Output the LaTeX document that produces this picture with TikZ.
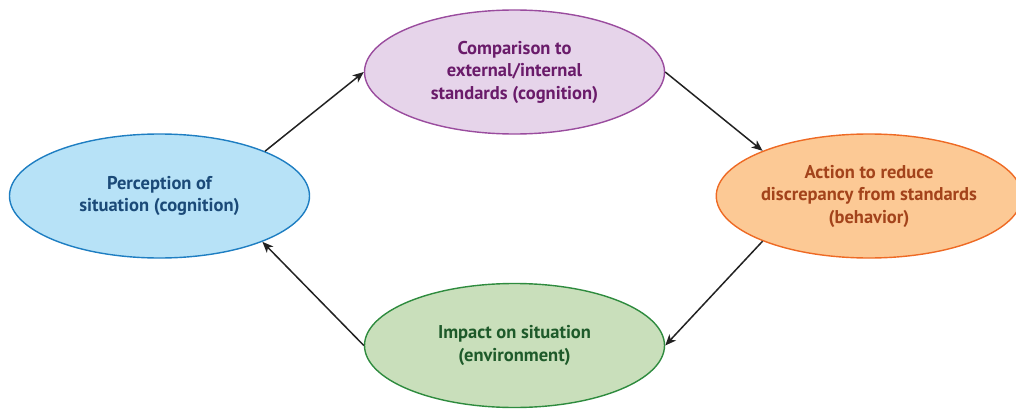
\documentclass[tikz,border=0pt]{standalone}
\usepackage{fontspec}
\setmainfont{PT Sans}
\usetikzlibrary{shapes.geometric,arrows.meta}

\definecolor{cmpfill}{HTML}{E6D4EA}
\definecolor{cmpline}{HTML}{9A4C9E}
\definecolor{cmptext}{HTML}{6A1B6A}
\definecolor{perfill}{HTML}{B7E2F7}
\definecolor{perline}{HTML}{1E7EC2}
\definecolor{pertext}{HTML}{1B4A78}
\definecolor{actfill}{HTML}{FCC995}
\definecolor{actline}{HTML}{EE6A24}
\definecolor{acttext}{HTML}{A3431B}
\definecolor{impfill}{HTML}{C9DFBB}
\definecolor{impline}{HTML}{2E8B3E}
\definecolor{imptext}{HTML}{1E5A2A}
\definecolor{arrowink}{HTML}{222222}

\tikzset{
  phase/.style={ellipse, draw, line width=1.4pt, inner sep=0pt,
    minimum width=300pt, minimum height=124pt, align=center,
    font=\bfseries\fontsize{18.5}{22.5}\selectfont},
  flow/.style={draw=arrowink, line width=1.5pt,
    -{Stealth[length=11pt, width=9pt, inset=3pt]}}
}

\begin{document}
\begin{tikzpicture}[x=1pt, y=-1pt]
  \useasboundingbox (0,0) rectangle (1016,409);
  \clip (0,0) rectangle (1016,409);

  \node[phase, fill=cmpfill, draw=cmpline, text=cmptext] (cmp) at (514.5,72)
    {Comparison to\\external/internal\\standards (cognition)};
  \node[phase, fill=perfill, draw=perline, text=pertext] (per) at (159.5,196)
    {Perception of\\situation (cognition)};
  \node[phase, fill=actfill, draw=actline, text=acttext] (act) at (869,196)
    {Action to reduce\\discrepancy from standards\\(behavior)};
  \node[phase, fill=impfill, draw=impline, text=imptext] (imp) at (514.5,345.5)
    {Impact on situation\\(environment)};

  \draw[flow] (per.23) -- (cmp.west);
  \draw[flow] (cmp.east) -- (act.157);
  \draw[flow] (act.203) -- (imp.east);
  \draw[flow] (imp.west) -- (per.336);
\end{tikzpicture}
\end{document}
